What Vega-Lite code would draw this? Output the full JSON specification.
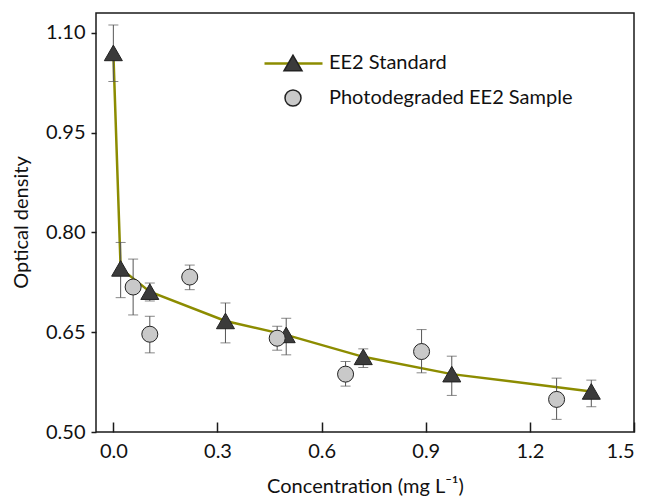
{
  "$schema": "https://vega.github.io/schema/vega-lite/v6.json",
  "width": 538,
  "height": 419,
  "autosize": {"type": "none"},
  "padding": {"left": 96, "top": 13, "right": 15, "bottom": 65},
  "background": "white",
  "config": {
    "view": {"stroke": "#1a1a1a", "strokeWidth": 1.5},
    "font": "Lato",
    "axis": {
      "labelFont": "Lato", "labelFontSize": 20, "labelColor": "#111",
      "titleFont": "Lato", "titleFontSize": 20, "titleFontWeight": "normal", "titleColor": "#111",
      "grid": false, "domain": false, "tickColor": "#1a1a1a", "tickWidth": 1.5
    },
    "legend": {
      "labelFont": "Lato", "labelFontSize": 20, "labelColor": "#111", "padding": 0, "labelLimit": 0
    }
  },
  "datasets": {
    "pts": [
      {"series": "EE2 Standard", "x": 0.0, "y": 1.07, "lo": 1.027, "hi": 1.112},
      {"series": "EE2 Standard", "x": 0.021, "y": 0.746, "lo": 0.702, "hi": 0.785},
      {"series": "EE2 Standard", "x": 0.105, "y": 0.711, "lo": 0.697, "hi": 0.724},
      {"series": "EE2 Standard", "x": 0.323, "y": 0.667, "lo": 0.634, "hi": 0.694},
      {"series": "EE2 Standard", "x": 0.498, "y": 0.646, "lo": 0.616, "hi": 0.671},
      {"series": "EE2 Standard", "x": 0.72, "y": 0.613, "lo": 0.597, "hi": 0.625},
      {"series": "EE2 Standard", "x": 0.975, "y": 0.587, "lo": 0.555, "hi": 0.614},
      {"series": "EE2 Standard", "x": 1.377, "y": 0.561, "lo": 0.538, "hi": 0.578},
      {"series": "Photodegraded EE2 Sample", "x": 0.057, "y": 0.718, "lo": 0.676, "hi": 0.76},
      {"series": "Photodegraded EE2 Sample", "x": 0.105, "y": 0.647, "lo": 0.619, "hi": 0.674},
      {"series": "Photodegraded EE2 Sample", "x": 0.22, "y": 0.733, "lo": 0.714, "hi": 0.751},
      {"series": "Photodegraded EE2 Sample", "x": 0.472, "y": 0.641, "lo": 0.623, "hi": 0.659},
      {"series": "Photodegraded EE2 Sample", "x": 0.669, "y": 0.587, "lo": 0.569, "hi": 0.606},
      {"series": "Photodegraded EE2 Sample", "x": 0.888, "y": 0.621, "lo": 0.589, "hi": 0.654},
      {"series": "Photodegraded EE2 Sample", "x": 1.277, "y": 0.549, "lo": 0.519, "hi": 0.581}
    ]
  },
  "data": {"name": "pts"},
  "encoding": {
    "x": {
      "field": "x", "type": "quantitative",
      "scale": {"domain": [-0.05, 1.5], "nice": false, "zero": false},
      "axis": {
        "title": "Concentration (mg L⁻¹)",
        "values": [0, 0.3, 0.6, 0.9, 1.2, 1.5], "format": ".1f",
        "tickSize": -10, "labelPadding": 19,
        "titleY": 60, "titleBaseline": "alphabetic"
      }
    }
  },
  "layer": [
    {
      "transform": [{"filter": "datum.series === 'EE2 Standard'"}],
      "mark": {"type": "line", "strokeWidth": 2.5, "interpolate": "linear"},
      "encoding": {
        "y": {"field": "y", "type": "quantitative",
          "scale": {"domain": [0.5, 1.13], "nice": false, "zero": false},
          "axis": {
            "title": "Optical density",
            "values": [0.5, 0.65, 0.8, 0.95, 1.1], "format": ".2f",
            "tickSize": 5, "labelPadding": 6,
            "titleX": -75, "titleY": 209, "titleBaseline": "middle", "titleAlign": "center", "titleAngle": -90
          }
        },
        "stroke": {
          "field": "series", "type": "nominal",
          "scale": {"domain": ["EE2 Standard"], "range": ["#8c8c00"]},
          "legend": {
            "title": null, "orient": "none", "legendX": 167, "legendY": 20,
            "symbolType": "stroke", "symbolSize": 3364, "symbolStrokeWidth": 2.5,
            "labelExpr": "''"
          }
        }
      }
    },
    {
      "mark": {"type": "errorbar", "ticks": {"size": 10, "thickness": 1, "color": "#555"}, "rule": {"strokeWidth": 1, "color": "#555"}},
      "encoding": {
        "y": {"field": "lo", "type": "quantitative", "title": "Optical density"},
        "y2": {"field": "hi"}
      }
    },
    {
      "mark": {"type": "point", "filled": true, "stroke": "#222", "strokeWidth": 1, "opacity": 1},
      "encoding": {
        "y": {"field": "y", "type": "quantitative", "title": "Optical density"},
        "shape": {
          "field": "series", "type": "nominal",
          "scale": {"domain": ["EE2 Standard", "Photodegraded EE2 Sample"], "range": ["triangle-up", "circle"]},
          "legend": {
            "title": null, "orient": "none", "legendX": 187, "legendY": 40,
            "labelOffset": 26, "rowPadding": 13,
            "encode": {"symbols": {"update": {"stroke": {"value": "#222"}, "strokeWidth": {"value": 1}, "opacity": {"value": 1}}}}
          }
        },
        "fill": {
          "field": "series", "type": "nominal",
          "scale": {"domain": ["EE2 Standard", "Photodegraded EE2 Sample"], "range": ["#3b3b3b", "#c9c9c9"]},
          "legend": {
            "title": null, "orient": "none", "legendX": 187, "legendY": 40,
            "labelOffset": 26, "rowPadding": 13,
            "encode": {"symbols": {"update": {"stroke": {"value": "#222"}, "strokeWidth": {"value": 1}, "opacity": {"value": 1}}}}
          }
        },
        "size": {
          "field": "series", "type": "nominal",
          "scale": {"domain": ["EE2 Standard", "Photodegraded EE2 Sample"], "range": [324, 256]},
          "legend": {
            "title": null, "orient": "none", "legendX": 187, "legendY": 40,
            "labelOffset": 26, "rowPadding": 13,
            "encode": {"symbols": {"update": {"stroke": {"value": "#222"}, "strokeWidth": {"value": 1}, "opacity": {"value": 1}}}}
          }
        }
      }
    }
  ]
}
